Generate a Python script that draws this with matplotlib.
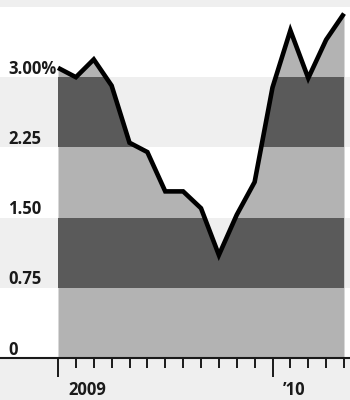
import numpy as np
import matplotlib
matplotlib.use("Agg")
import matplotlib.pyplot as plt
from matplotlib.patches import Rectangle
from matplotlib.transforms import ScaledTranslation, blended_transform_factory

# Monthly rate, Jan 2009 - May 2010 (%)
months = np.arange(17)
rate = [3.10, 3.00, 3.19, 2.91, 2.30, 2.20, 1.78, 1.78, 1.60, 1.10,
        1.53, 1.88, 2.89, 3.50, 2.99, 3.40, 3.68]
y_ticks = [0, 0.75, 1.50, 2.25, 3.00]
y_tick_labels = ["0", "0.75", "1.50", "2.25", "3.00%"]
x_major = [0, 12]
x_major_labels = ["2009", "\u201910"]

BG = "#efefef"
WHITE = "#ffffff"
LIGHT_FILL = "#b3b3b3"
DARK_FILL = "#5a5a5a"
INK = "#1a1a1a"

fig = plt.figure(figsize=(3.5, 4.0), dpi=100, facecolor=BG)
ax = fig.add_axes([0.0, 0.105, 1.0, 0.8775])
ax.set_facecolor(WHITE)

xmin, xmax = -58 / 17.875, 16 + 6 / 17.875
ax.set_xlim(xmin, xmax)
ax.set_ylim(0, 3.75)

# alternating horizontal bands across the full width
band_edges = [0, 0.75, 1.5, 2.25, 3.0, 3.75]
for i in range(len(band_edges) - 1):
    if i % 2 == 1:
        ax.axhspan(band_edges[i], band_edges[i + 1], color=BG, lw=0, zorder=0)

# area under the line, shaded in bands of its own
area = ax.fill_between(months, 0, rate, color=LIGHT_FILL, lw=0, zorder=1)
clip = area.get_paths()[0]
for i in range(len(band_edges) - 1):
    if i % 2 == 1:
        r = Rectangle((months[0], band_edges[i]), months[-1] - months[0],
                      band_edges[i + 1] - band_edges[i],
                      color=DARK_FILL, lw=0, zorder=2)
        ax.add_patch(r)
        r.set_clip_path(clip, ax.transData)

ax.plot(months, rate, color="black", lw=3.3, solid_joinstyle="miter",
        solid_capstyle="butt", zorder=3, clip_on=False)

for s in ["top", "left", "right"]:
    ax.spines[s].set_visible(False)
ax.spines["bottom"].set_color(INK)
ax.spines["bottom"].set_linewidth(1.5)
ax.spines["bottom"].set_zorder(4)

font = ["Open Sans", "DejaVu Sans"]

# y labels sit just above their gridlines at the left edge
ax.set_yticks([])
trans = blended_transform_factory(ax.transAxes, ax.transData)
for v, lab in zip(y_ticks, y_tick_labels):
    ax.annotate(lab, xy=(0, v), xycoords=trans, xytext=(6, 2.5),
                textcoords="offset points", ha="left", va="baseline",
                fontsize=12, fontweight="bold", color=INK,
                family=font, zorder=5)

# x ticks: month minor ticks, labelled year ticks
ax.set_xticks(x_major)
ax.set_xticklabels(x_major_labels, fontsize=12, fontweight="bold",
                   color=INK, family=font, ha="left")
ax.set_xticks(months, minor=True)
ax.tick_params(axis="x", which="major", length=14, width=1.4, color=INK,
               direction="out", pad=2.5)
ax.tick_params(axis="x", which="minor", length=7.5, width=1.4, color=INK,
               direction="out")
for lab in ax.get_xticklabels():
    lab.set_transform(lab.get_transform()
                      + ScaledTranslation(10 / 100, 0, fig.dpi_scale_trans))

fig.savefig("out.png", dpi=100, facecolor=BG)
